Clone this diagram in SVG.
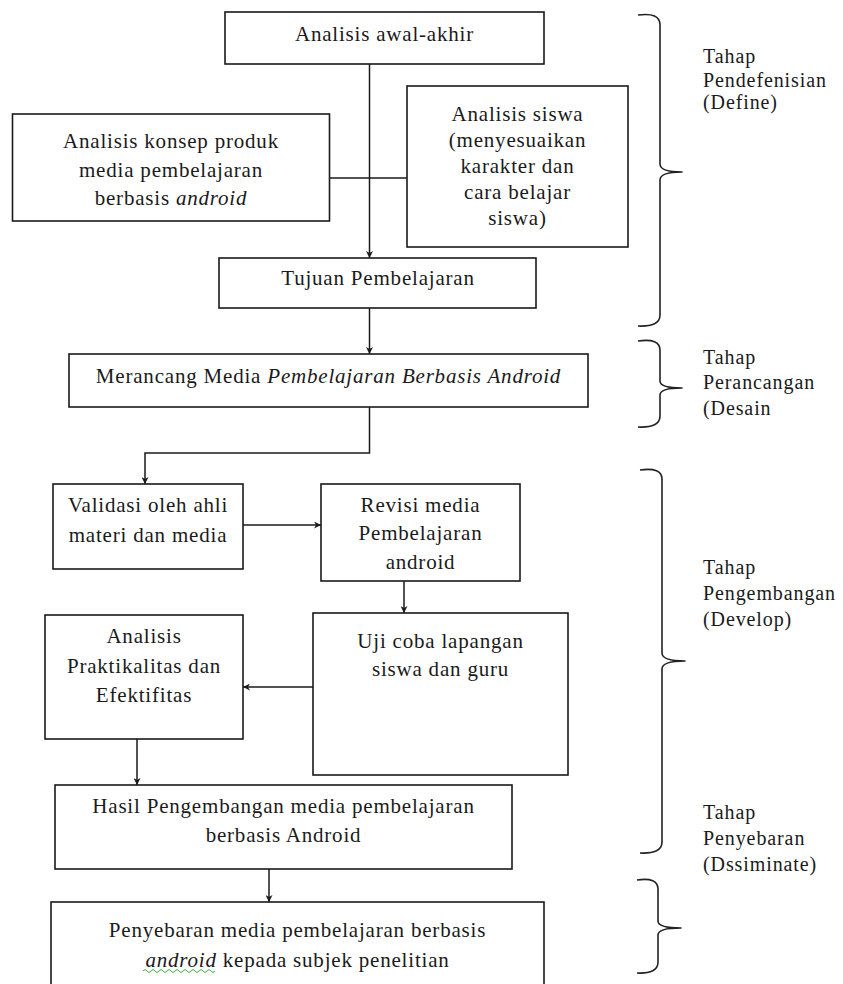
<svg xmlns="http://www.w3.org/2000/svg" width="843" height="984" viewBox="0 0 843 984">
<style>
  .box rect { fill: #ffffff; stroke: #1a1a1a; stroke-width: 1.6; }
  .box text, .lbl text { font-family: "Liberation Serif", "Times New Roman", serif; fill: #1a1a1a; }
  .box text { font-size: 21px; letter-spacing: 0.8px; text-anchor: middle; }
  .lbl text { font-size: 20px; letter-spacing: 0.9px; }
  .it { font-style: italic; }
  .conn path { fill: none; stroke: #1a1a1a; stroke-width: 1.5; }
  .brace path { fill: none; stroke: #222222; stroke-width: 1.6; stroke-linejoin: round; }
</style>
<defs>
  <marker id="ah" viewBox="0 0 10 10" refX="10" refY="5" markerWidth="7" markerHeight="7" markerUnits="userSpaceOnUse" orient="auto">
    <path d="M0,0 L10,5 L0,10 L3,5 Z" fill="#1a1a1a"/>
  </marker>
</defs>
<rect width="843" height="984" fill="#ffffff"/>

<g id="connectors" class="conn">
  <path d="M369.5,64 V258" marker-end="url(#ah)"/>
  <path d="M329.5,178 H407"/>
  <path d="M369.5,308 V354" marker-end="url(#ah)"/>
  <path d="M369.5,407 V453 H145 V484" marker-end="url(#ah)"/>
  <path d="M243,525 H321" marker-end="url(#ah)"/>
  <path d="M404,581 V613" marker-end="url(#ah)"/>
  <path d="M313,687 H243" marker-end="url(#ah)"/>
  <path d="M137,739 V785" marker-end="url(#ah)"/>
  <path d="M269,869 V902" marker-end="url(#ah)"/>
</g>

<g id="n-awal" class="box">
  <rect x="225" y="12" width="319" height="52"/>
  <text x="384.5" y="41">Analisis awal-akhir</text>
</g>
<g id="n-konsep" class="box">
  <rect x="12.5" y="114" width="317" height="107"/>
  <text x="171" y="148">Analisis konsep produk</text>
  <text x="171" y="177">media pembelajaran</text>
  <text x="171" y="205">berbasis <tspan class="it">android</tspan></text>
</g>
<g id="n-siswa" class="box">
  <rect x="407" y="86" width="221" height="161"/>
  <text x="517.5" y="121">Analisis siswa</text>
  <text x="517.5" y="147">(menyesuaikan</text>
  <text x="517.5" y="173">karakter dan</text>
  <text x="517.5" y="199">cara belajar</text>
  <text x="517.5" y="225">siswa)</text>
</g>
<g id="n-tujuan" class="box">
  <rect x="219" y="258" width="317" height="50"/>
  <text x="378" y="285">Tujuan Pembelajaran</text>
</g>
<g id="n-merancang" class="box">
  <rect x="69" y="354" width="519" height="53"/>
  <text x="328.5" y="383">Merancang Media <tspan class="it">Pembelajaran Berbasis Android</tspan></text>
</g>
<g id="n-validasi" class="box">
  <rect x="53" y="484" width="190" height="85"/>
  <text x="148" y="512">Validasi oleh ahli</text>
  <text x="148" y="542">materi dan media</text>
</g>
<g id="n-revisi" class="box">
  <rect x="321" y="484" width="199" height="97"/>
  <text x="420.5" y="512">Revisi media</text>
  <text x="420.5" y="540">Pembelajaran</text>
  <text x="420.5" y="569">android</text>
</g>
<g id="n-uji" class="box">
  <rect x="313" y="613" width="255" height="162"/>
  <text x="440.5" y="648">Uji coba lapangan</text>
  <text x="440.5" y="676">siswa dan guru</text>
</g>
<g id="n-praktikalitas" class="box">
  <rect x="45" y="615" width="198" height="124"/>
  <text x="144" y="643">Analisis</text>
  <text x="144" y="673">Praktikalitas dan</text>
  <text x="144" y="702">Efektifitas</text>
</g>
<g id="n-hasil" class="box">
  <rect x="55" y="785" width="457" height="84"/>
  <text x="283.5" y="813">Hasil Pengembangan media pembelajaran</text>
  <text x="283.5" y="842">berbasis Android</text>
</g>
<g id="n-penyebaran" class="box">
  <rect x="51" y="902" width="493" height="95"/>
  <text x="297.5" y="937">Penyebaran media pembelajaran berbasis</text>
  <text x="297.5" y="967"><tspan class="it">android</tspan> kepada subjek penelitian</text>
  <path d="M143,971 q2,-3 4,0 t4,0 t4,0 t4,0 t4,0 t4,0 t4,0 t4,0 t4,0 t4,0 t4,0 t4,0 t4,0 t4,0 t4,0 t4,0 t4,0 t4,0" fill="none" stroke="#3cb043" stroke-width="1"/>
</g>

<g id="brace-define" class="brace">
  <path d="M638,15 Q660,12 660,25 L660,164 Q660,172 682,172 Q660,172 660,180 L660,315 Q660,327 638,326"/>
</g>
<g id="brace-desain" class="brace">
  <path d="M638,341 Q660,338 660,350 L660,381 Q660,388 682,388 Q660,388 660,395 L660,416 Q660,428 638,427"/>
</g>
<g id="brace-develop" class="brace">
  <path d="M640,470 Q662,467 662,479 L662,653 Q662,661 685,661 Q662,661 662,669 L662,842 Q662,854 640,853"/>
</g>
<g id="brace-disseminate" class="brace">
  <path d="M637,880 Q658,877 658,889 L658,921 Q658,928 681,928 Q658,928 658,935 L658,962 Q658,974 637,973"/>
</g>

<g id="label-define" class="lbl">
  <text x="703" y="63">Tahap</text>
  <text x="703" y="87">Pendefenisian</text>
  <text x="703" y="109">(Define)</text>
</g>
<g id="label-desain" class="lbl">
  <text x="703" y="364">Tahap</text>
  <text x="703" y="389">Perancangan</text>
  <text x="703" y="415">(Desain</text>
</g>
<g id="label-develop" class="lbl">
  <text x="703" y="574">Tahap</text>
  <text x="703" y="600">Pengembangan</text>
  <text x="703" y="626">(Develop)</text>
</g>
<g id="label-disseminate" class="lbl">
  <text x="703" y="819">Tahap</text>
  <text x="703" y="845">Penyebaran</text>
  <text x="703" y="871">(Dssiminate)</text>
</g>
</svg>
